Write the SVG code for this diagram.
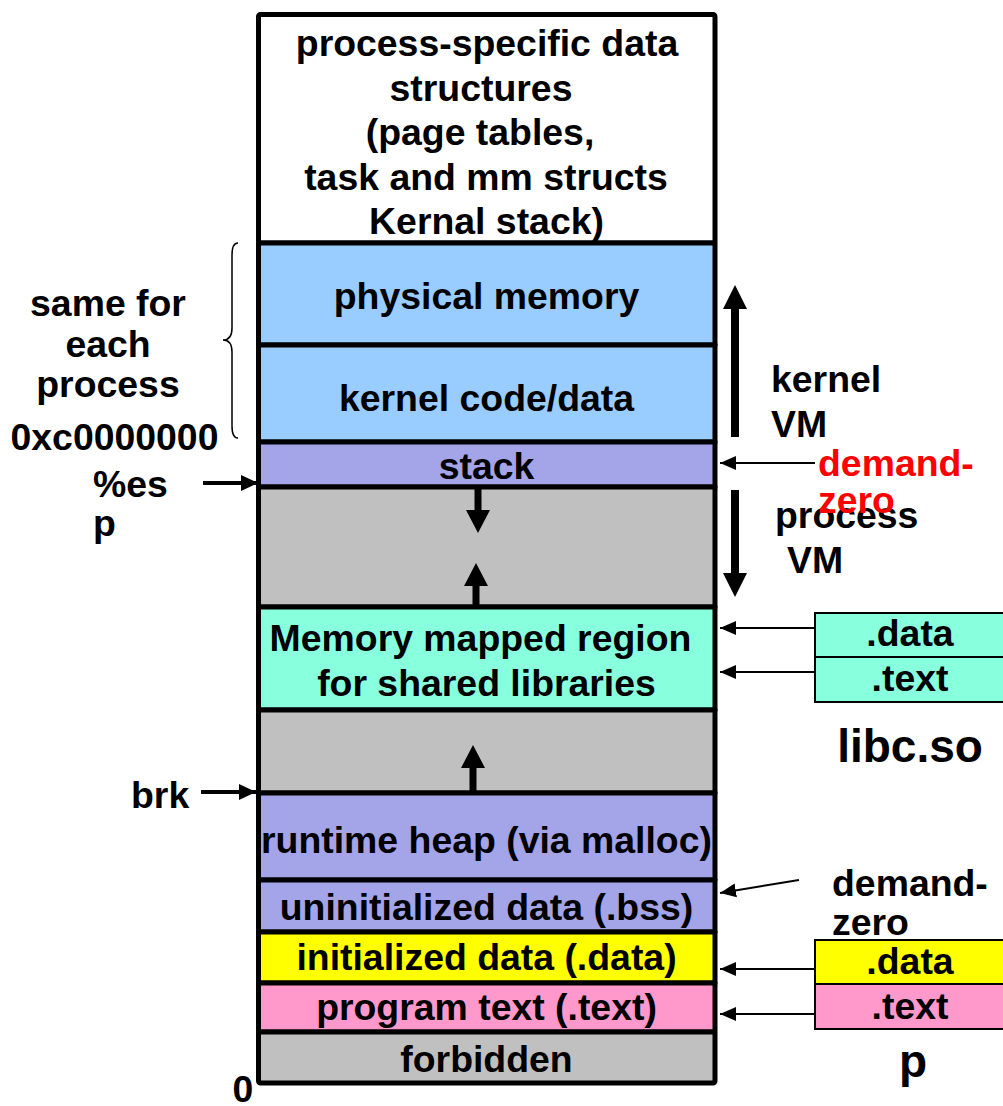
<svg xmlns="http://www.w3.org/2000/svg" width="1003" height="1106" viewBox="0 0 1003 1106">
<style>
.t{font-family:"Liberation Sans",Arial,sans-serif;font-weight:bold;font-size:37.4px;fill:#000}
.c{text-anchor:middle}
.big{font-size:46px}
.red{fill:#ff0000}
.sec{stroke:#000;stroke-width:5;stroke-linejoin:round}
.box{stroke:#000;stroke-width:2}
.thin{stroke:#000;stroke-width:2;fill:none}
.thick{stroke:#000;stroke-width:4;fill:none}
.solid{fill:#000;stroke:none}
</style>
<defs>
<marker id="ah" markerUnits="userSpaceOnUse" markerWidth="16" markerHeight="16" viewBox="0 0 16 16" refX="16" refY="8" orient="auto"><path d="M0,1 L16,8 L0,15 z" fill="#000"/></marker>
<marker id="ahb" markerUnits="userSpaceOnUse" markerWidth="18" markerHeight="18" viewBox="0 0 18 18" refX="17" refY="9" orient="auto"><path d="M0,1 L17,9 L0,17 z" fill="#000"/></marker>
</defs>
<rect width="1003" height="1106" fill="#fff"/>

<g id="proc-specific"><rect class="sec" x="258.5" y="14.5" width="456.5" height="228.5" fill="#fff" rx="2"/>
<text class="t c" x="487" y="56">process-specific data</text>
<text class="t c" x="481" y="100.5">structures</text>
<text class="t c" x="480" y="145">(page tables,</text>
<text class="t c" x="486" y="189.5">task and mm structs</text>
<text class="t c" x="486.5" y="234">Kernal stack)</text></g>
<g id="physical-memory"><rect class="sec" x="258.5" y="243" width="456.5" height="102" fill="#99ccff"/>
<text class="t c" x="486.5" y="309">physical memory</text></g>
<g id="kernel-code"><rect class="sec" x="258.5" y="345" width="456.5" height="97" fill="#99ccff"/>
<text class="t c" x="486.5" y="411">kernel code/data</text></g>
<g id="stack"><rect class="sec" x="258.5" y="442" width="456.5" height="45" fill="#a4a4e8"/>
<text class="t c" x="486.5" y="479">stack</text></g>
<g id="gap1"><rect class="sec" x="258.5" y="487" width="456.5" height="120" fill="#c0c0c0"/></g>
<g id="mmap"><rect class="sec" x="258.5" y="607" width="456.5" height="103" fill="#88ffdd"/>
<text class="t c" x="480.5" y="651">Memory mapped region</text>
<text class="t c" x="486.5" y="696">for shared libraries</text></g>
<g id="gap2"><rect class="sec" x="258.5" y="710" width="456.5" height="83" fill="#c0c0c0"/></g>
<g id="heap"><rect class="sec" x="258.5" y="793" width="456.5" height="87" fill="#a4a4e8"/>
<text class="t c" x="486.5" y="853">runtime heap (via malloc)</text></g>
<g id="bss"><rect class="sec" x="258.5" y="880" width="456.5" height="52" fill="#a4a4e8"/>
<text class="t c" x="486.5" y="920">uninitialized data (.bss)</text></g>
<g id="data"><rect class="sec" x="258.5" y="932" width="456.5" height="51" fill="#ffff00"/>
<text class="t c" x="486.5" y="970">initialized data (.data)</text></g>
<g id="text"><rect class="sec" x="258.5" y="983" width="456.5" height="49" fill="#ff99cc"/>
<text class="t c" x="486.5" y="1020">program text (.text)</text></g>
<g id="forbidden"><rect class="sec" x="258.5" y="1032" width="456.5" height="51" fill="#c0c0c0" rx="2"/>
<text class="t c" x="486.5" y="1072">forbidden</text></g>

<g id="libc">
<rect class="box" x="815" y="613" width="195" height="44" fill="#88ffdd"/>
<rect class="box" x="815" y="657" width="195" height="45" fill="#88ffdd"/>
<text class="t c" x="910" y="646">.data</text>
<text class="t c" x="910" y="691">.text</text>
<text class="t c big" x="910" y="762">libc.so</text></g>
<g id="prog-p">
<rect class="box" x="815" y="940" width="195" height="44" fill="#ffff00"/>
<rect class="box" x="815" y="984" width="195" height="45" fill="#ff99cc"/>
<text class="t c" x="910" y="974">.data</text>
<text class="t c" x="910" y="1019">.text</text>
<text class="t c big" x="913" y="1077">p</text></g>

<g id="labels">
<text class="t c" x="108" y="316">same for</text>
<text class="t c" x="108" y="357">each</text>
<text class="t c" x="108" y="397">process</text>
<text class="t c" x="114.5" y="450">0xc0000000</text>
<text class="t" x="93" y="497">%es</text>
<text class="t" x="93" y="536">p</text>
<text class="t" x="131" y="808">brk</text>
<text class="t c" x="243" y="1102">0</text>
<text class="t" x="771" y="392">kernel</text>
<text class="t" x="771" y="437">VM</text>
<text class="t" x="775" y="528">process</text>
<text class="t" x="787" y="573">VM</text>
<text class="t red" x="818" y="476">demand-</text>
<text class="t red" x="818" y="513">zero</text>
<text class="t" x="832" y="896">demand-</text>
<text class="t" x="832" y="935">zero</text>
</g>

<g id="connectors">
<path d="M238,243 Q232,243 232,255 L232,328 Q232,340 223,340 Q232,340 232,352 L232,426 Q232,438 238,438" fill="none" stroke="#000" stroke-width="1.5"/>
<line class="thick" x1="203" y1="483" x2="258" y2="483" marker-end="url(#ahb)"/>
<line class="thick" x1="201" y1="792" x2="256" y2="792" marker-end="url(#ahb)"/>
<line class="thin" x1="815" y1="463" x2="720" y2="463" marker-end="url(#ah)"/>
<line class="thin" x1="815" y1="628" x2="720" y2="628" marker-end="url(#ah)"/>
<line class="thin" x1="815" y1="672" x2="720" y2="672" marker-end="url(#ah)"/>
<line class="thin" x1="799" y1="880" x2="720" y2="893" marker-end="url(#ah)"/>
<line class="thin" x1="815" y1="969" x2="720" y2="969" marker-end="url(#ah)"/>
<line class="thin" x1="815" y1="1014" x2="720" y2="1014" marker-end="url(#ah)"/>
<polygon class="solid" points="731,437 731,309 723,309 735,285 747,309 739,309 739,437"/>
<polygon class="solid" points="731,490 739,490 739,573 747,573 735,597 723,573 731,573"/>
<polygon class="solid" points="474.5,489 481.5,489 481.5,510 490,510 478,533 466,510 474.5,510"/>
<polygon class="solid" points="472.5,605 479.5,605 479.5,586 488,586 476,563 464,586 472.5,586"/>
<polygon class="solid" points="469.5,791 476.5,791 476.5,768 485,768 473,745 461,768 469.5,768"/>
</g>
</svg>
